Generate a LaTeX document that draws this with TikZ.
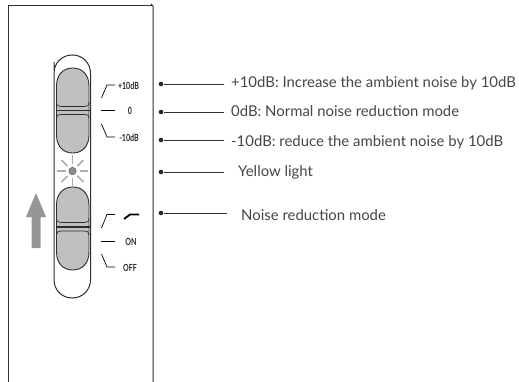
\documentclass[tikz,border=0pt]{standalone}
\usepackage{xcolor}
\usepackage{fontspec}
\setmainfont{Lato}
\usetikzlibrary{calc}
\definecolor{linegray}{RGB}{45,45,45}
\definecolor{textgray}{RGB}{70,70,70}
\definecolor{rockergray}{RGB}{192,192,192}
\definecolor{arrowgray}{RGB}{150,150,150}

\begin{document}
\begin{tikzpicture}[
  x=1pt,y=-1pt,
  panel/.style={draw=linegray,line width=1pt},
  rocker/.style={draw=linegray,line width=0.9pt,fill=rockergray},
  seam/.style={draw=linegray,line width=0.7pt},
  ray/.style={draw=black!32,line width=1.6pt},
  tick/.style={draw=black,line width=0.7pt},
  ticklabel/.style={font=\fontsize{9.8}{10}\selectfont\bfseries,text=black!85,inner sep=0pt,xscale=0.72,transform shape},
  dot/.style={circle,fill=black!85,inner sep=0pt,minimum size=4.6pt},
  leader/.style={draw=black!80,line width=0.7pt},
  caption/.style={font=\fontsize{14.9}{16}\selectfont,text=textgray,inner sep=0pt,anchor=west}
]
\useasboundingbox (0,0) rectangle (519,382);

% panel
\draw[panel] (8,382) -- (8,6) -- (153,6);
\draw[panel] (151,4) -- (153,6) -- (153,382);

% slider slot
\draw[panel,rounded corners=18pt] (54,80) -- (54,55) -- (90.5,55) -- (90.5,298) -- (54,298) -- cycle;

% upper switch
\draw[rocker] (56.5,86) .. controls (56.5,75) and (63,68) .. (72.75,68) .. controls (82.5,68) and (89,75) .. (89,86) -- (89,135) .. controls (89,146) and (82.5,153) .. (72.75,153) .. controls (63,153) and (56.5,146) .. (56.5,135) -- cycle;
\draw[seam] (56.5,102) .. controls (56.5,105.5) and (58,106.5) .. (61,106.5) -- (84.5,106.5) .. controls (87.5,106.5) and (89,105.5) .. (89,102);
\draw[seam] (56.5,118) .. controls (56.5,115) and (58,114.5) .. (61,114.5) -- (84.5,114.5) .. controls (87.5,114.5) and (89,115) .. (89,118);
\draw[linegray,line width=1.2pt] (56,110.5) -- (89.5,110.5);

% lower switch
\draw[rocker] (56.5,205) .. controls (56.5,194) and (63,187) .. (72.75,187) .. controls (82.5,187) and (89,194) .. (89,205) -- (89,252) .. controls (89,263) and (82.5,270) .. (72.75,270) .. controls (63,270) and (56.5,263) .. (56.5,252) -- cycle;
\draw[seam] (56.5,218) .. controls (56.5,221.5) and (58,222.5) .. (61,222.5) -- (84.5,222.5) .. controls (87.5,222.5) and (89,221.5) .. (89,218);
\draw[seam] (56.5,235) .. controls (56.5,232) and (58,231) .. (61,231) -- (84.5,231) .. controls (87.5,231) and (89,232) .. (89,235);
\draw[linegray,line width=1.2pt] (56,227) -- (89.5,227);

% light
\node[circle,draw=black!65,fill=black!45,inner sep=0pt,minimum size=7.5pt] (lamp) at (72.5,171) {};
\foreach \a in {0,45,...,315}
  \draw[ray] ($(lamp)+(\a:7)$) -- ($(lamp)+(\a:15.5)$);

% slide direction
\fill[arrowgray] (36,193) -- (46,217) -- (40.5,217) -- (40.5,248) -- (31.5,248) -- (31.5,217) -- (26,217) -- cycle;

% level marks
\draw[tick] (101.5,98) -- (107,85) -- (115,85);
\draw[tick,line width=1pt] (101,111) -- (115,111);
\draw[tick] (101.5,124) -- (107,137) -- (115,137);
\node[ticklabel] (plusten) at (128.5,85.5) {+10dB};
\node[ticklabel] (zero) at (130,111) {0};
\node[ticklabel] (minusten) at (129,137.5) {-10dB};

% mode marks
\draw[tick] (101.5,228) -- (107,214.5) -- (115,214.5);
\draw[tick,line width=1pt] (101,241) -- (115,241);
\draw[tick] (101.5,254) -- (107,267) -- (115,267);
\draw[black,line width=1.8pt] (124,219) -- (130,214.5) -- (139,214.5);
\node[ticklabel] (on) at (131,241.5) {ON};
\node[ticklabel] (off) at (130,268) {OFF};

% callouts
\node[dot] (d1) at (161,84) {};
\node[dot] (d2) at (161,112) {};
\node[dot] (d3) at (161,140) {};
\node[dot] (d4) at (161,172) {};
\node[dot] (d5) at (161,213) {};
\coordinate (e1) at (224,84);
\coordinate (e2) at (224,112);
\coordinate (e3) at (224,140);
\coordinate (e4) at (224,172);
\coordinate (e5) at (227,213);
\node[caption] (c1) at (231,83) {+10dB: Increase the ambient noise by 10dB};
\node[caption] (c2) at (231,111.5) {0dB: Normal noise reduction mode};
\node[caption] (c3) at (231,142) {-10dB: reduce the ambient noise by 10dB};
\node[caption] (c4) at (238,172) {Yellow light};
\node[caption] (c5) at (241,215) {Noise reduction mode};

\draw[leader] (d1) -- (e1);
\draw[leader] (d2) -- (e2);
\draw[leader] (d3) -- (e3);
\draw[leader] (d4) -- (e4);
\draw[leader] (d5) -- (e5);
\end{tikzpicture}
\end{document}
